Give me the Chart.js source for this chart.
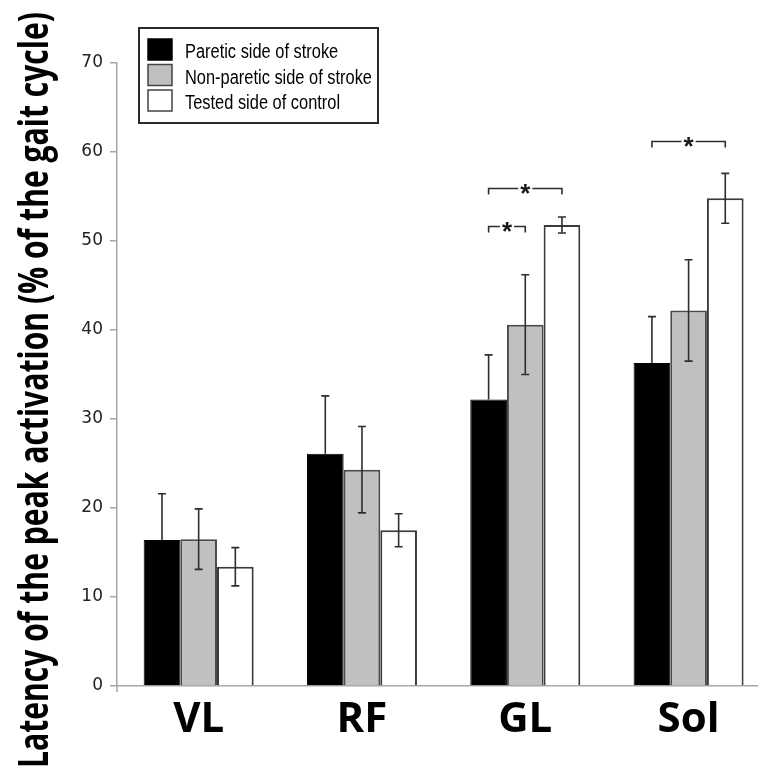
<!DOCTYPE html>
<html><head><meta charset="utf-8">
<script src="https://cdn.jsdelivr.net/npm/chart.js@4"></script>
<style>html,body{margin:0;padding:0;background:#fff;overflow:hidden}#wrap{position:relative;width:758px;height:770px}</style>
</head><body><div id="wrap"><canvas id="c" width="758" height="770"></canvas></div>
<script>
const categories = ['VL', 'RF', 'GL', 'Sol'];
const seriesNames = ['Paretic side of stroke', 'Non-paretic side of stroke', 'Tested side of control'];
const pareticMean = [16.4, 26.1, 32.2, 36.3];
const pareticErr = [5.2, 6.5, 5.0, 5.2];
const nonPareticMean = [16.5, 24.3, 40.6, 42.2];
const nonPareticErr = [3.4, 4.85, 5.6, 5.7];
const controlMean = [13.4, 17.5, 51.8, 54.8];
const controlErr = [2.15, 1.85, 0.9, 2.8];
const yTicks = [0, 10, 20, 30, 40, 50, 60, 70];
const yTitle = 'Latency of the peak activation (% of the gait cycle)';
// significance brackets: category index, from-series index, to-series index, level (data units)
const sigCategory = [2, 2, 3];
const sigFrom = [0, 0, 0];
const sigTo = [1, 2, 2];
const sigLevel = [51.7, 56.0, 61.2];

const means = [pareticMean, nonPareticMean, controlMean];
const errs = [pareticErr, nonPareticErr, controlErr];
const fills = ['#000000', '#c0c0c0', '#ffffff'];
const borders = ['#000000', '#4a4a4a', '#3a3a3a'];

const datasets = means.map((arr, s) => ({
  label: seriesNames[s],
  data: arr.map((v, i) => ({x: i, y: v})),
  backgroundColor: fills[s],
  borderColor: borders[s],
  borderWidth: s === 0 ? 1 : 2,
  categoryPercentage: 0.6736,
  barPercentage: 1.0
}));

const extras = {
  id: 'extras',
  afterDatasetsDraw(chart) {
    const ctx = chart.ctx;
    const y = chart.scales.y;
    ctx.save();
    ctx.strokeStyle = '#2e2e2e';
    ctx.lineWidth = 1.6;
    // error bars (black bars only show the upper half)
    means.forEach((arr, s) => {
      const meta = chart.getDatasetMeta(s);
      arr.forEach((v, i) => {
        const bx = meta.data[i].x;
        const top = y.getPixelForValue(v + errs[s][i]);
        const bot = y.getPixelForValue(s === 0 ? v : v - errs[s][i]);
        ctx.beginPath();
        ctx.moveTo(bx, top); ctx.lineTo(bx, bot);
        ctx.moveTo(bx - 4, top); ctx.lineTo(bx + 4, top);
        if (s !== 0) { ctx.moveTo(bx - 4, bot); ctx.lineTo(bx + 4, bot); }
        ctx.stroke();
      });
    });
    // significance brackets
    ctx.font = 'bold 26px "Liberation Sans"';
    const m = ctx.measureText('*');
    const sw = m.width;
    sigCategory.forEach((c, k) => {
      const x1 = chart.getDatasetMeta(sigFrom[k]).data[c].x;
      const x2 = chart.getDatasetMeta(sigTo[k]).data[c].x;
      const ly = Math.round(y.getPixelForValue(sigLevel[k])) + 0.5;
      const cx = (x1 + x2) / 2;
      ctx.beginPath();
      ctx.moveTo(x1, ly + 6); ctx.lineTo(x1, ly); ctx.lineTo(cx - sw / 2 - 2, ly);
      ctx.moveTo(cx + sw / 2 + 2, ly); ctx.lineTo(x2, ly); ctx.lineTo(x2, ly + 6);
      ctx.stroke();
      ctx.fillStyle = '#1a1a1a';
      ctx.textAlign = 'center';
      ctx.textBaseline = 'alphabetic';
      const off = (m.actualBoundingBoxAscent - m.actualBoundingBoxDescent) / 2;
      ctx.fillText('*', cx, ly + off);
    });
    // origin tick below the x axis
    const xa = chart.scales.x;
    ctx.strokeStyle = '#a6a6a6';
    ctx.lineWidth = 1.5;
    ctx.beginPath();
    ctx.moveTo(xa.left, xa.top);
    ctx.lineTo(xa.left, xa.top + 6);
    ctx.stroke();
    ctx.restore();
  },
  afterDraw(chart) {
    const ctx = chart.ctx;
    ctx.save();
    // y-axis title
    ctx.font = 'bold 42px "Open Sans"';
    const w = ctx.measureText(yTitle).width;
    ctx.translate(48, 390);
    ctx.rotate(-Math.PI / 2);
    ctx.scale(756 / w, 1);
    ctx.fillStyle = '#000';
    ctx.textAlign = 'center';
    ctx.textBaseline = 'alphabetic';
    ctx.fillText(yTitle, 0, 0);
    ctx.restore();
    // legend
    ctx.save();
    ctx.strokeStyle = '#2a2a2a';
    ctx.lineWidth = 2;
    ctx.strokeRect(139, 28, 239, 95);
    ctx.font = '20px "Liberation Sans"';
    const lw = ctx.measureText(seriesNames[1]).width;
    seriesNames.forEach((name, s) => {
      const ry = 39 + s * 25.5;
      ctx.fillStyle = fills[s];
      ctx.fillRect(148, ry, 24, 21);
      ctx.strokeStyle = s === 0 ? '#000' : '#444';
      ctx.lineWidth = 1.5;
      ctx.strokeRect(148, ry, 24, 21);
      ctx.save();
      ctx.translate(185, ry + 19);
      ctx.scale(187 / lw, 1);
      ctx.fillStyle = '#000';
      ctx.textAlign = 'left';
      ctx.textBaseline = 'alphabetic';
      ctx.fillText(name, 0, 0);
      ctx.restore();
    });
    ctx.restore();
  }
};

new Chart(document.getElementById('c'), {
  type: 'bar',
  data: {datasets},
  options: {
    responsive: false,
    animation: false,
    layout: {padding: {top: 63, right: 0, bottom: 0, left: 0}},
    plugins: {legend: {display: false}, tooltip: {enabled: false}},
    scales: {
      x: {
        type: 'linear', min: -0.5, max: 3.425, offset: false,
        afterBuildTicks: s => { s.ticks = categories.map((c, i) => ({value: i})); },
        ticks: {
          callback: v => categories[v],
          font: {family: 'Open Sans', weight: 'bold', size: 42},
          color: '#000', padding: 9, maxRotation: 0, autoSkip: false
        },
        grid: {display: false, drawTicks: false},
        border: {display: true, color: '#a6a6a6', width: 1.5},
        afterFit: s => { s.height = 84; }
      },
      y: {
        min: 0, max: 70,
        afterBuildTicks: s => { s.ticks = yTicks.map(v => ({value: v})); },
        ticks: {font: {family: 'DejaVu Sans', size: 17}, color: '#222', padding: 7},
        grid: {drawOnChartArea: false, drawTicks: true, tickLength: 7, color: '#a6a6a6', lineWidth: 1.5},
        border: {display: true, color: '#a6a6a6', width: 1.5},
        afterFit: s => { s.width = 117; }
      }
    }
  },
  plugins: [extras]
});
</script>
</body></html>
